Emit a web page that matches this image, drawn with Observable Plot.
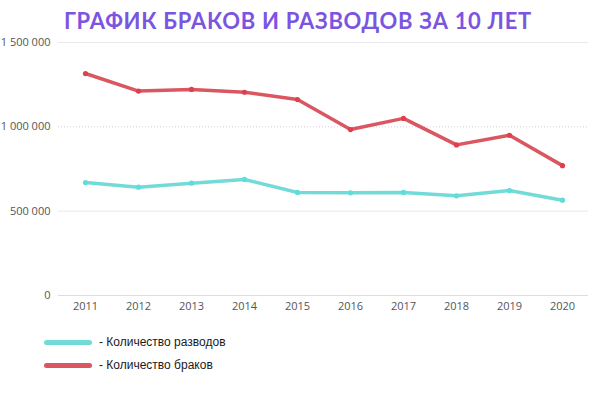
<!DOCTYPE html>
<html><head><meta charset="utf-8">
<script src="https://cdn.jsdelivr.net/npm/d3@7"></script>
<script src="https://cdn.jsdelivr.net/npm/@observablehq/plot@0.6"></script>
<style>
body{margin:0;background:#fff;width:600px;height:408px;overflow:hidden;position:relative;font-family:"Open Sans",sans-serif}
#title{position:absolute;left:64px;top:7px;white-space:nowrap;font-family:Lato,"Open Sans",sans-serif;font-weight:700;font-size:22px;letter-spacing:0.7px;color:#7b55e2}
#chart{position:absolute;left:0;top:0}
.leg{position:absolute;left:44px;font-family:"Liberation Sans",Arial,sans-serif;font-size:12px;color:#1a1a1a;display:flex;align-items:center}
.leg span.sw{display:inline-block;width:48px;height:5px;border-radius:3px;margin-right:7px}
</style></head><body>
<div id="chart"></div>
<div id="title">ГРАФИК БРАКОВ И РАЗВОДОВ ЗА 10 ЛЕТ</div>
<div class="leg" style="top:335px"><span class="sw" style="background:#72dbd8"></span>- Количество разводов</div>
<div class="leg" style="top:358px"><span class="sw" style="background:#da5661"></span>- Количество браков</div>
<script>
const years = ["2011","2012","2013","2014","2015","2016","2017","2018","2019","2020"];
const marriages = [1316000, 1212000, 1222000, 1205000, 1162000, 984000, 1050000, 893000, 950000, 770000];
const divorces = [670000, 642000, 666000, 688000, 611000, 609000, 611000, 591000, 622000, 565000];
const yTicks = [0, 500000, 1000000, 1500000];
const seriesNames = ["Количество браков", "Количество разводов"];
const colors = ["#da5661", "#72dbd8"];

const mData = years.map((y, i) => ({year: y, value: marriages[i]}));
const dData = years.map((y, i) => ({year: y, value: divorces[i]}));
const fmt = v => d3.format(",")(v).replace(/,/g, " ");

const plot = Plot.plot({
  width: 600, height: 320,
  marginTop: 42, marginBottom: 25, marginLeft: 58, marginRight: 12,
  style: {fontFamily: "'Open Sans', sans-serif", fontSize: "11px", color: "#555", background: "transparent"},
  x: {type: "point", domain: years, padding: 0.5, label: null, tickSize: 0, tickPadding: 7},
  y: {domain: [0, 1500000], ticks: yTicks, tickFormat: fmt, label: null, tickSize: 0, tickPadding: 8},
  marks: [
    Plot.ruleY([500000, 1500000], {stroke: "#e8e8ee", strokeWidth: 1}),
    Plot.ruleY([1000000], {stroke: "#dccadc", strokeWidth: 1, strokeDasharray: "1,2"}),
    Plot.ruleY([0], {stroke: "#dcdce2", strokeWidth: 1}),
    Plot.line(dData, {x: "year", y: "value", stroke: colors[1], strokeWidth: 3.5, strokeLinejoin: "round", strokeLinecap: "round"}),
    Plot.dot(dData, {x: "year", y: "value", r: 2.6, fill: "#5fdcdc", stroke: null}),
    Plot.line(mData, {x: "year", y: "value", stroke: colors[0], strokeWidth: 3.5, strokeLinejoin: "round", strokeLinecap: "round"}),
    Plot.dot(mData, {x: "year", y: "value", r: 2.6, fill: "#e0404e", stroke: null})
  ]
});
document.getElementById("chart").appendChild(plot);
</script>
</body></html>
